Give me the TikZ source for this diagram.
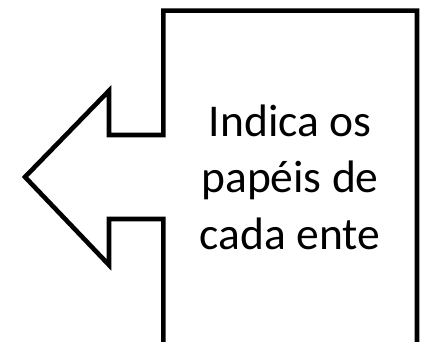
\documentclass[tikz,border=0pt]{standalone}
\usepackage{fontspec}
\setmainfont{Carlito}
\begin{document}
\begin{tikzpicture}[x=1pt,y=-1pt,
  outline/.style={draw=black,line width=4.6pt,line join=miter,fill=white},
  lbl/.style={anchor=base,inner sep=0pt,font=\fontsize{45.5}{56}\selectfont}]
\useasboundingbox (0,0) rectangle (421,342);
\clip (0,0) rectangle (421,342);
\draw[outline] (163.3,360) -- (163.3,219) -- (109,219) -- (109,265) -- (25,177)
  -- (109,90.7) -- (109,135) -- (163.3,135) -- (163.3,10.7) -- (417,10.7) -- (417,360);
\node[lbl] (t1) at (290,137) {Indica os};
\node[lbl] (t2) at (290,193) {papéis de};
\node[lbl] (t3) at (290,250) {cada ente};
\end{tikzpicture}
\end{document}
